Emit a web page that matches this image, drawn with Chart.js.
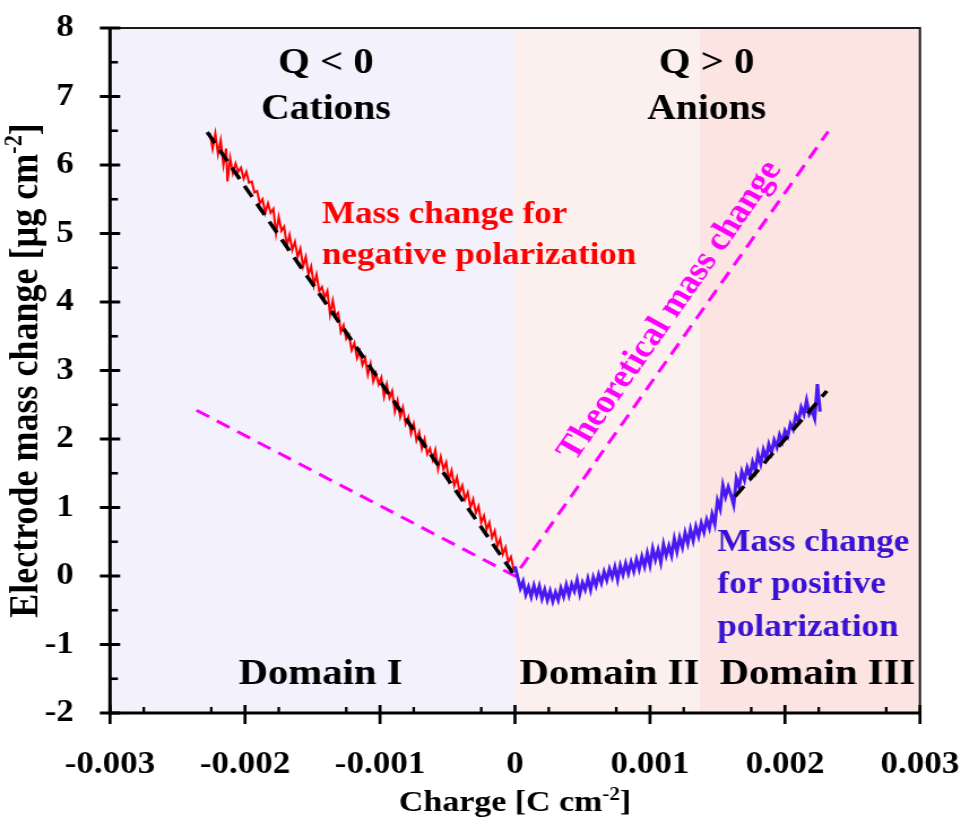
<!DOCTYPE html>
<html>
<head>
<meta charset="utf-8">
<script src="https://cdn.jsdelivr.net/npm/chart.js@4.4.1/dist/chart.umd.min.js"></script>
<style>
  html, body { margin: 0; padding: 0; background: #fff; overflow: hidden; }
  #wrap { width: 961px; height: 820px; position: relative; overflow: hidden; }
  /* the figure is laid out on an 850px-wide canvas and widened to 961px */
  #c { position: absolute; left: 0; top: 0; transform-origin: 0 0; transform: scaleX(1.130588); }
</style>
</head>
<body>
<div id="wrap"><canvas id="c" width="850" height="820"></canvas></div>
<script>
// ---- axis ranges and tick labels ----
const X_MIN = -0.003, X_MAX = 0.003, Y_MIN = -2, Y_MAX = 8;
const xTickLabels = ['-0.003', '-0.002', '-0.001', '0', '0.001', '0.002', '0.003'];
const yTickLabels = ['-2', '-1', '0', '1', '2', '3', '4', '5', '6', '7', '8'];

// ---- measured mass change, negative polarization (Q < 0) ----
const negCharge = [
  -0.00226, -0.00224, -0.00222, -0.00220, -0.00218, -0.00216, -0.00214, -0.00213, -0.00211, -0.00209,
  -0.00207, -0.00205, -0.00203, -0.00201, -0.00199, -0.00197, -0.00195, -0.00193, -0.00191, -0.00189,
  -0.00187, -0.00185, -0.00183, -0.00181, -0.00179, -0.00177, -0.00175, -0.00173, -0.00171, -0.00169,
  -0.00167, -0.00165, -0.00163, -0.00161, -0.00159, -0.00157, -0.00155, -0.00153, -0.00151, -0.00149,
  -0.00147, -0.00145, -0.00143, -0.00141, -0.00139, -0.00137, -0.00135, -0.00133, -0.00131, -0.00129,
  -0.00127, -0.00125, -0.00123, -0.00121, -0.00119, -0.00117, -0.00115, -0.00113, -0.00111, -0.00109,
  -0.00107, -0.00105, -0.00103, -0.00101, -0.00099, -0.00097, -0.00095, -0.00093, -0.00091, -0.00089,
  -0.00087, -0.00085, -0.00083, -0.00081, -0.00079, -0.00077, -0.00075, -0.00073, -0.00071, -0.00069,
  -0.00067, -0.00065, -0.00063, -0.00061, -0.00059, -0.00057, -0.00055, -0.00053, -0.00051, -0.00049,
  -0.00047, -0.00045, -0.00043, -0.00041, -0.00039, -0.00037, -0.00035, -0.00033, -0.00031, -0.00029,
  -0.00027, -0.00025, -0.00023, -0.00021, -0.00019, -0.00017, -0.00015, -0.00013, -0.00011, -0.00009,
  -0.00007, -0.00005, -0.00003, -0.00001, 0.00000
];
const negMass = [
  6.46, 6.24, 6.46, 6.16, 6.36, 6.00, 6.24, 5.76, 6.10, 5.88,
  6.02, 5.90, 5.96, 5.80, 5.90, 5.74, 5.76, 5.60, 5.62, 5.44,
  5.50, 5.30, 5.44, 5.30, 5.36, 5.00, 5.24, 5.04, 5.10, 4.82,
  4.98, 4.76, 4.88, 4.66, 4.78, 4.52, 4.66, 4.40, 4.52, 4.24,
  4.40, 4.16, 4.22, 4.06, 4.16, 3.82, 4.02, 3.80, 3.84, 3.56,
  3.66, 3.46, 3.52, 3.30, 3.40, 3.18, 3.28, 3.08, 3.18, 2.94,
  3.10, 2.84, 2.96, 2.80, 2.90, 2.62, 2.80, 2.60, 2.70, 2.40,
  2.56, 2.32, 2.46, 2.22, 2.32, 2.08, 2.22, 1.98, 2.10, 1.86,
  2.00, 1.78, 1.86, 1.70, 1.84, 1.56, 1.74, 1.56, 1.66, 1.40,
  1.54, 1.32, 1.44, 1.22, 1.32, 1.12, 1.22, 1.00, 1.12, 0.92,
  1.02, 0.78, 0.88, 0.68, 0.78, 0.56, 0.66, 0.44, 0.54, 0.32,
  0.42, 0.20, 0.28, 0.10, 0.10
];

// ---- measured mass change, positive polarization (Q > 0) ----
const posCharge = [
  0.00000, 0.00002, 0.00004, 0.00006, 0.00008, 0.00010, 0.00012, 0.00014, 0.00016, 0.00018,
  0.00020, 0.00022, 0.00024, 0.00026, 0.00028, 0.00030, 0.00032, 0.00034, 0.00036, 0.00038,
  0.00040, 0.00042, 0.00044, 0.00046, 0.00048, 0.00050, 0.00052, 0.00054, 0.00056, 0.00058,
  0.00060, 0.00062, 0.00064, 0.00066, 0.00068, 0.00070, 0.00072, 0.00074, 0.00076, 0.00078,
  0.00080, 0.00082, 0.00084, 0.00086, 0.00088, 0.00090, 0.00092, 0.00094, 0.00096, 0.00098,
  0.00100, 0.00102, 0.00104, 0.00106, 0.00108, 0.00110, 0.00112, 0.00114, 0.00116, 0.00118,
  0.00120, 0.00122, 0.00124, 0.00126, 0.00128, 0.00130, 0.00132, 0.00134, 0.00136, 0.00138,
  0.00140, 0.00142, 0.00144, 0.00146, 0.00148, 0.00150, 0.00152, 0.00154, 0.00156, 0.00158,
  0.00160, 0.00162, 0.00164, 0.00166, 0.00168, 0.00170, 0.00172, 0.00174, 0.00176, 0.00178,
  0.00180, 0.00182, 0.00184, 0.00186, 0.00188, 0.00190, 0.00192, 0.00194, 0.00196, 0.00198,
  0.00200, 0.00202, 0.00204, 0.00206, 0.00208, 0.00210, 0.00212, 0.00214, 0.00216, 0.00218,
  0.00220, 0.00222, 0.00224, 0.00226
];
const posMass = [
  0.14, -0.02, -0.18, -0.08, -0.27, -0.16, -0.30, -0.14, -0.28, -0.15,
  -0.33, -0.20, -0.35, -0.22, -0.37, -0.24, -0.35, -0.18, -0.30, -0.13,
  -0.28, -0.12, -0.22, -0.06, -0.26, -0.10, -0.20, -0.04, -0.20, -0.02,
  -0.14, 0.02, -0.10, 0.06, -0.06, 0.10, -0.02, 0.13, -0.05, 0.15,
  0.02, 0.18, 0.04, 0.20, 0.07, 0.24, 0.10, 0.28, 0.14, 0.33,
  0.16, 0.40, 0.24, 0.38, 0.20, 0.46, 0.30, 0.44, 0.30, 0.54,
  0.36, 0.56, 0.42, 0.63, 0.48, 0.68, 0.52, 0.72, 0.58, 0.77,
  0.64, 0.82, 0.70, 0.90, 0.76, 1.10, 0.98, 1.32, 1.16, 1.30,
  1.18, 1.04, 1.42, 1.30, 1.52, 1.40, 1.58, 1.46, 1.66, 1.54,
  1.78, 1.64, 1.84, 1.72, 1.92, 1.80, 1.98, 1.88, 2.06, 1.96,
  2.12, 2.04, 2.22, 2.14, 2.34, 2.26, 2.46, 2.36, 2.56, 2.36,
  2.42, 2.30, 2.80, 2.40
];

// ---- theoretical mass change and linear fits ----
const theoryCharge = [-0.00236, 0, 0.00232];
const theoryMass = [2.42, 0, 6.49];
const fitNegCharge = [-0.00228, 0];
const fitNegMass = [6.48, 0];
const fitPosCharge = [0.00163, 0.00231];
const fitPosMass = [1.16, 2.70];

// ---- domains (charge limits) ----
const domainEdges = [-0.003, 0, 0.00137, 0.003];
const domainNames = ['Domain I', 'Domain II', 'Domain III'];

// ---- drawing setup ----
const FAMILY = '"Liberation Serif", "Times New Roman", serif';
const DOMAIN_FILLS = ['#f3f1fc', '#fcf0ef', '#fbe4e2'];
const pts = (xs, ys) => xs.map((x, i) => ({ x, y: ys[i] }));
const setFont = (ctx, size) => { ctx.font = 'bold ' + size + 'px ' + FAMILY; };

// text with optional superscript pieces: parts = [[text, isSup], ...]
function drawRich(ctx, parts, x, y, size, align) {
  const supSize = size * 0.62;
  let w = 0;
  for (const [t, s] of parts) { setFont(ctx, s ? supSize : size); w += ctx.measureText(t).width; }
  let cx = align === 'center' ? x - w / 2 : x;
  ctx.textAlign = 'left';
  ctx.textBaseline = 'alphabetic';
  for (const [t, s] of parts) {
    setFont(ctx, s ? supSize : size);
    ctx.fillText(t, cx, s ? y - size * 0.38 : y);
    cx += ctx.measureText(t).width;
  }
}

const notes = [
  { text: 'Q < 0', x: -0.0014, y: 7.35, size: 36, color: '#000', align: 'center' },
  { text: 'Cations', x: -0.0014, y: 6.67, size: 35, color: '#000', align: 'center' },
  { text: 'Q > 0', x: 0.00142, y: 7.35, size: 36, color: '#000', align: 'center' },
  { text: 'Anions', x: 0.00142, y: 6.67, size: 35, color: '#000', align: 'center' },
  { text: 'Mass change for', x: -0.00143, y: 5.16, size: 31, color: '#ff0000', align: 'left' },
  { text: 'negative polarization', x: -0.00143, y: 4.55, size: 31, color: '#ff0000', align: 'left' },
  { text: 'Mass change', x: 0.0015, y: 0.36, size: 31, color: '#3a12d4', align: 'left' },
  { text: 'for positive', x: 0.0015, y: -0.25, size: 31, color: '#3a12d4', align: 'left' },
  { text: 'polarization', x: 0.0015, y: -0.87, size: 31, color: '#3a12d4', align: 'left' }
];
const domainLabelX = [-0.00144, 0.0007, 0.00224];
const domainLabelY = -1.58;

const decor = {
  id: 'decor',
  beforeDatasetsDraw(chart) {
    const { ctx, chartArea: a, scales: { x } } = chart;
    ctx.save();
    for (let i = 0; i < domainEdges.length - 1; i++) {
      const l = x.getPixelForValue(domainEdges[i]);
      const r = x.getPixelForValue(domainEdges[i + 1]);
      ctx.fillStyle = DOMAIN_FILLS[i];
      ctx.fillRect(l, a.top, r - l, a.bottom - a.top);
    }
    ctx.restore();
  },
  afterDraw(chart) {
    const { ctx, chartArea: a, scales: { x, y } } = chart;
    ctx.save();

    // frame: thin top/right, heavy left/bottom axes
    ctx.lineCap = 'butt';
    ctx.strokeStyle = '#1a1a1a';
    ctx.lineWidth = 2;
    ctx.beginPath();
    ctx.moveTo(a.left, a.top); ctx.lineTo(a.right, a.top); ctx.lineTo(a.right, a.bottom);
    ctx.stroke();
    ctx.strokeStyle = '#000';
    ctx.lineWidth = 3;
    ctx.beginPath();
    ctx.moveTo(a.left, a.top - 1); ctx.lineTo(a.left, a.bottom); ctx.lineTo(a.right + 1, a.bottom);
    ctx.stroke();

    // x ticks: majors cross the axis, minors point inward
    ctx.lineWidth = 2.7;
    for (const t of x.ticks) {
      const px = x.getPixelForValue(t.value);
      ctx.beginPath(); ctx.moveTo(px, a.bottom - 8); ctx.lineTo(px, a.bottom + 11); ctx.stroke();
    }
    ctx.lineWidth = 2.3;
    for (let v = X_MIN + 0.00025; v < X_MAX; v += 0.0005) {
      const px = x.getPixelForValue(v);
      ctx.beginPath(); ctx.moveTo(px, a.bottom - 6); ctx.lineTo(px, a.bottom); ctx.stroke();
    }
    // y ticks
    ctx.lineWidth = 3;
    for (const t of y.ticks) {
      const py = y.getPixelForValue(t.value);
      ctx.beginPath(); ctx.moveTo(a.left - 9, py); ctx.lineTo(a.left + 9, py); ctx.stroke();
    }
    ctx.lineWidth = 2.6;
    for (let v = Y_MIN + 0.5; v < Y_MAX; v += 1) {
      const py = y.getPixelForValue(v);
      ctx.beginPath(); ctx.moveTo(a.left, py); ctx.lineTo(a.left + 7, py); ctx.stroke();
    }

    // annotations
    ctx.textBaseline = 'alphabetic';
    for (const n of notes) {
      setFont(ctx, n.size);
      ctx.fillStyle = n.color;
      ctx.textAlign = n.align;
      ctx.fillText(n.text, x.getPixelForValue(n.x), y.getPixelForValue(n.y));
    }
    setFont(ctx, 36);
    ctx.fillStyle = '#000';
    ctx.textAlign = 'center';
    domainNames.forEach((name, i) => {
      ctx.fillText(name, x.getPixelForValue(domainLabelX[i]), y.getPixelForValue(domainLabelY));
    });

    // label along the theoretical line
    const x0 = x.getPixelForValue(0), y0 = y.getPixelForValue(0);
    const x1 = x.getPixelForValue(theoryCharge[2]), y1 = y.getPixelForValue(theoryMass[2]);
    ctx.save();
    ctx.translate(x.getPixelForValue(0.00115), y.getPixelForValue(3.87));
    ctx.rotate(Math.atan2(y1 - y0, x1 - x0));
    setFont(ctx, 33);
    ctx.fillStyle = '#ff00ff';
    ctx.textAlign = 'center';
    ctx.textBaseline = 'middle';
    ctx.fillText('Theoretical mass change', 0, 0);
    ctx.restore();

    // axis titles
    ctx.fillStyle = '#000';
    drawRich(ctx, [['Charge [C cm', false], ['-2', true], [']', false]],
      x.getPixelForValue(0), 811, 30, 'center');
    ctx.save();
    ctx.translate(33, (a.top + a.bottom) / 2);
    ctx.rotate(-Math.PI / 2);
    drawRich(ctx, [['Electrode mass change [\u00b5g cm', false], ['-2', true], [']', false]],
      0, 0, 36, 'center');
    ctx.restore();

    ctx.restore();
  }
};

const lineDefaults = { showLine: true, pointRadius: 0, pointHoverRadius: 0, tension: 0, fill: false };

new Chart(document.getElementById('c'), {
  type: 'scatter',
  data: {
    datasets: [
      { ...lineDefaults, label: 'Fit (Q < 0)', data: pts(fitNegCharge, fitNegMass),
        borderColor: '#000', borderWidth: 3.5, borderDash: [13, 8] },
      { ...lineDefaults, label: 'Fit (Q > 0)', data: pts(fitPosCharge, fitPosMass),
        borderColor: '#000', borderWidth: 3.5, borderDash: [13, 8] },
      { ...lineDefaults, label: 'Positive polarization', data: pts(posCharge, posMass),
        borderColor: '#4a18f2', borderWidth: 3 },
      { ...lineDefaults, label: 'Negative polarization', data: pts(negCharge, negMass),
        borderColor: '#ff0000', borderWidth: 2 },
      { ...lineDefaults, label: 'Theoretical mass change', data: pts(theoryCharge, theoryMass),
        borderColor: '#ff00ff', borderWidth: 3, borderDash: [13, 8] }
    ]
  },
  options: {
    responsive: false,
    animation: false,
    events: [],
    layout: { padding: { left: 0, right: 36.3, top: 28, bottom: 0 } },
    plugins: { legend: { display: false }, tooltip: { enabled: false } },
    scales: {
      x: {
        type: 'linear', min: X_MIN, max: X_MAX,
        grid: { display: false }, border: { display: false },
        ticks: {
          stepSize: 0.001, autoSkip: false, maxRotation: 0, padding: 25, color: '#000',
          font: { family: FAMILY, size: 31, weight: 'bold' },
          callback: (v, i) => xTickLabels[i]
        },
        afterFit: (s) => { s.height = 107; s.paddingLeft = 0; s.paddingRight = 0; }
      },
      y: {
        type: 'linear', min: Y_MIN, max: Y_MAX,
        grid: { display: false }, border: { display: false },
        ticks: {
          stepSize: 1, autoSkip: false, padding: 24, color: '#000',
          font: { family: FAMILY, size: 31, weight: 'bold' },
          callback: (v, i) => yTickLabels[i]
        },
        afterFit: (s) => { s.width = 97.3; s.paddingTop = 0; s.paddingBottom = 0; }
      }
    }
  },
  plugins: [decor]
});
</script>
</body>
</html>
